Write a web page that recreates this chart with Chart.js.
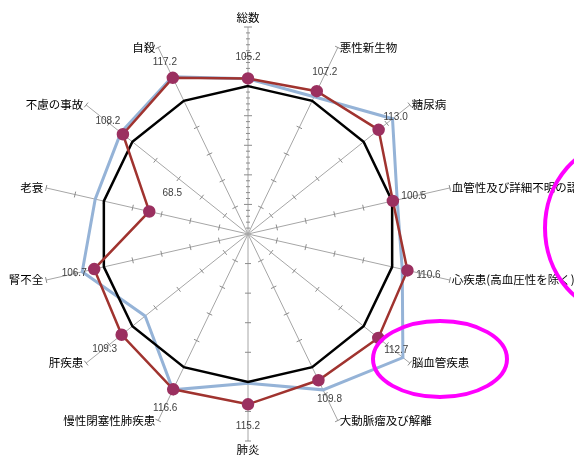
<!DOCTYPE html>
<html>
<head>
<meta charset="utf-8">
<script src="https://cdn.jsdelivr.net/npm/chart.js@4/dist/chart.umd.min.js"></script>
<style>
    html, body { margin: 0; padding: 0; background: #fff; }
    #wrap { width: 574px; height: 469px; position: relative; }
</style>
</head>
<body>
<div id="wrap"><canvas id="radar"></canvas></div>
<script>
const categories = [
    '総数', '悪性新生物', '糖尿病', '血管性及び詳細不明の認知症', '心疾患(高血圧性を除く)',
    '脳血管疾患', '大動脈瘤及び解離', '肺炎', '慢性閉塞性肺疾患', '肝疾患',
    '腎不全', '老衰', '不慮の事故', '自殺'
];
const ratioValues = [105.2, 107.2, 113.0, 100.5, 110.6, 112.7, 109.8, 115.2, 116.6, 109.3, 106.7, 68.5, 108.2, 117.2];
const baseValues = [100, 100, 100, 100, 100, 100, 100, 100, 100, 100, 100, 100, 100, 100];
const otherValues = [105, 103, 125, 103.5, 107, 134, 117, 101, 117, 89, 115, 106, 110, 118];

const SCALE_MIN = 0;
const SCALE_MAX = 140;
const SCALE_STEP = 20;

// where each value label sits relative to its point (px)
const labelOffsets = [
    [0, -21], [8, -19], [17, -13], [21, -5], [21, 5], [18, 12], [11, 19],
    [0, 22], [-8, 19], [-17, 14], [-20, 4], [23, -18], [-15, -13], [-8, -16]
];

const spokeTicks = {
    id: 'spokeTicks',
    beforeDatasetsDraw(chart) {
        const r = chart.scales.r;
        const ctx = chart.ctx;
        ctx.save();
        ctx.strokeStyle = '#8c8c8c';
        ctx.lineWidth = 1;
        categories.forEach((c, i) => {
            const a = r.getIndexAngle(i) - Math.PI / 2;
            const px = -Math.sin(a), py = Math.cos(a);
            const step = i === 0 ? SCALE_STEP / 5 : SCALE_STEP;
            for (let v = SCALE_MIN + step; v <= SCALE_MAX + 0.001; v += step) {
                const p = r.getPointPositionForValue(i, v);
                const major = Math.abs(v / SCALE_STEP - Math.round(v / SCALE_STEP)) < 1e-6;
                const len = i === 0 ? (major ? 4 : 2) : 3;
                ctx.beginPath();
                ctx.moveTo(p.x - px * len, p.y - py * len);
                ctx.lineTo(p.x + px * len, p.y + py * len);
                ctx.stroke();
            }
        });
        ctx.restore();
    }
};

const radarLabels = {
    id: 'radarLabels',
    afterDatasetsDraw(chart) {
        const r = chart.scales.r;
        const ctx = chart.ctx;
        ctx.save();

        // category names at the end of each spoke
        ctx.font = '11.5px "Noto Sans CJK JP"';
        ctx.fillStyle = '#000';
        ctx.textBaseline = 'middle';
        categories.forEach((c, i) => {
            const p = r.getPointPositionForValue(i, SCALE_MAX);
            const a = r.getIndexAngle(i);
            const sx = Math.sin(a);
            let x = p.x, y = p.y;
            if (Math.abs(sx) < 0.01) {
                ctx.textAlign = 'center';
                y += Math.cos(a) > 0 ? -9 : 9;
            } else if (sx > 0) {
                ctx.textAlign = 'left';
                x += 2;
            } else {
                ctx.textAlign = 'right';
                x -= 3;
            }
            ctx.fillText(c, x, y);
        });

        // value labels of the ratio series
        ctx.font = '10px "Liberation Sans"';
        ctx.fillStyle = '#404040';
        ctx.textAlign = 'center';
        const meta = chart.getDatasetMeta(0);
        meta.data.forEach((pt, i) => {
            const off = labelOffsets[i];
            ctx.fillText(ratioValues[i].toFixed(1), pt.x + off[0], pt.y + off[1]);
        });

        // highlight rings
        ctx.strokeStyle = '#ff00ff';
        ctx.lineWidth = 4;
        ctx.beginPath();
        ctx.ellipse(440, 359, 67, 38, 0, 0, Math.PI * 2);
        ctx.stroke();
        ctx.beginPath();
        ctx.ellipse(620, 228, 75, 85, 0, 0, Math.PI * 2);
        ctx.stroke();

        ctx.restore();
    }
};

new Chart(document.getElementById('radar'), {
    type: 'radar',
    data: {
        labels: categories,
        datasets: [
            {
                label: 'ratio',
                data: ratioValues,
                borderColor: '#a0332f',
                borderWidth: 2.5,
                pointBackgroundColor: '#9b3060',
                pointBorderColor: '#9b3060',
                pointRadius: 5,
                fill: false
            },
            {
                label: 'base',
                data: baseValues,
                borderColor: '#000000',
                borderWidth: 2.5,
                pointRadius: 0,
                fill: false
            },
            {
                label: 'other',
                data: otherValues,
                borderColor: '#95b3d7',
                borderWidth: 3,
                pointRadius: 0,
                fill: false
            }
        ]
    },
    options: {
        responsive: true,
        maintainAspectRatio: false,
        animation: false,
        events: [],
        layout: { padding: { left: 41, right: 119, top: 27, bottom: 28 } },
        plugins: {
            legend: { display: false },
            tooltip: { enabled: false }
        },
        elements: { line: { tension: 0 } },
        scales: {
            r: {
                min: SCALE_MIN,
                max: SCALE_MAX,
                ticks: { display: false, stepSize: SCALE_STEP },
                grid: { display: false },
                angleLines: { color: '#a6a6a6', lineWidth: 1 },
                pointLabels: { display: false }
            }
        }
    },
    plugins: [spokeTicks, radarLabels]
});
</script>
</body>
</html>
